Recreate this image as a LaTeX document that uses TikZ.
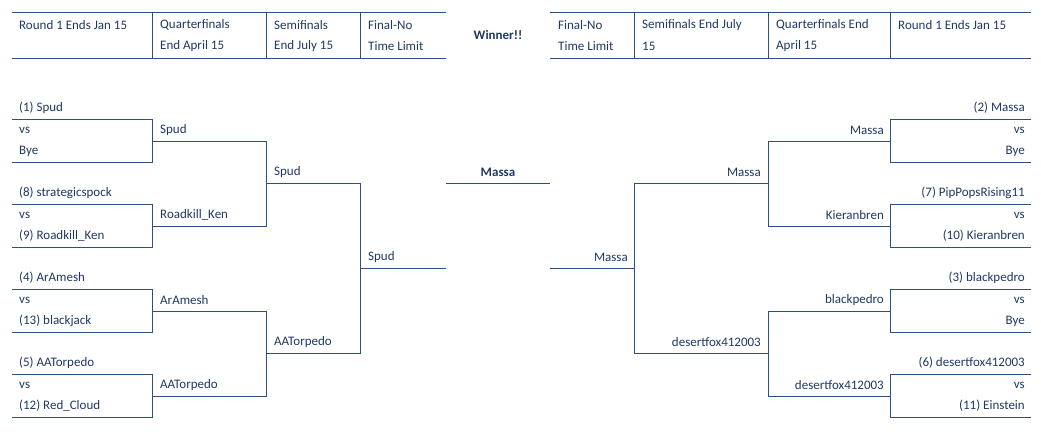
\documentclass[tikz,border=0pt]{standalone}
\usepackage{fontspec}
\setmainfont{Carlito}
\definecolor{ink}{HTML}{1F3864}
\definecolor{ln}{HTML}{2F4F7F}
\begin{document}
\begin{tikzpicture}[x=1pt,y=-1pt,
  ln/.style={draw=ln,line width=1pt},
  tl/.style={anchor=west,text=ink,font=\fontsize{13}{15}\selectfont,inner sep=0pt},
  tr/.style={anchor=east,text=ink,font=\fontsize{13}{15}\selectfont,inner sep=0pt},
  tc/.style={anchor=center,text=ink,font=\bfseries\fontsize{13}{15}\selectfont,inner sep=0pt}]
\useasboundingbox (0,0) rectangle (1041,431);
% header left
\draw[ln] (12,12) -- (446,12) (12,58) -- (446,58);
\foreach \x in {152,266,360} \draw[ln] (\x,12) -- (\x,58);
\node[tl] (h1) at (19,25) {Round 1 Ends Jan 15};
\node[tl] (h2) at (160,25) {Quarterfinals};
\node[tl] (h2b) at (160,46) {End April 15};
\node[tl] (h3) at (274,25) {Semifinals};
\node[tl] (h3b) at (274,46) {End July 15};
\node[tl] (h4) at (368,25) {Final-No};
\node[tl] (h4b) at (368,46) {Time Limit};
\node[tc] (win) at (498,35) {Winner!!};
% header right
\draw[ln] (550,12) -- (1031,12) (550,58) -- (1031,58);
\foreach \x in {634,768,890} \draw[ln] (\x,12) -- (\x,58);
\node[tl] (r4) at (558,25) {Final-No};
\node[tl] (r4b) at (558,46) {Time Limit};
\node[tl] (r3) at (642,25) {Semifinals End July};
\node[tl] (r3b) at (642,46) {15};
\node[tl] (r2) at (776,25) {Quarterfinals End};
\node[tl] (r2b) at (776,46) {April 15};
\node[tl] (r1) at (898,25) {Round 1 Ends Jan 15};
% left bracket lines
\draw[ln] (12,119) -- (152,119) -- (152,162) -- (12,162);
\draw[ln] (12,204) -- (152,204) -- (152,247) -- (12,247);
\draw[ln] (12,289) -- (152,289) -- (152,332) -- (12,332);
\draw[ln] (12,374) -- (152,374) -- (152,417) -- (12,417);
\draw[ln] (152,141) -- (266,141) -- (266,226) -- (152,226);
\draw[ln] (152,311) -- (266,311) -- (266,396) -- (152,396);
\draw[ln] (266,183) -- (360,183) -- (360,353) -- (266,353);
\draw[ln] (360,268) -- (446,268);
\draw[ln] (446,183) -- (550,183);
% right bracket lines
\draw[ln] (1031,119) -- (890,119) -- (890,162) -- (1031,162);
\draw[ln] (1031,204) -- (890,204) -- (890,247) -- (1031,247);
\draw[ln] (1031,289) -- (890,289) -- (890,332) -- (1031,332);
\draw[ln] (1031,374) -- (890,374) -- (890,417) -- (1031,417);
\draw[ln] (890,141) -- (768,141) -- (768,226) -- (890,226);
\draw[ln] (890,311) -- (768,311) -- (768,396) -- (890,396);
\draw[ln] (768,183) -- (634,183) -- (634,353) -- (768,353);
\draw[ln] (634,268) -- (550,268);
% left texts
\node[tl] (a1) at (19,108) {(1) Spud};
\node[tl] (a2) at (19,130) {vs};
\node[tl] (a3) at (19,151) {Bye};
\node[tl] (a4) at (19,193) {(8) strategicspock};
\node[tl] (a5) at (19,215) {vs};
\node[tl] (a6) at (19,236) {(9) Roadkill\_Ken};
\node[tl] (a7) at (19,278) {(4) ArAmesh};
\node[tl] (a8) at (19,300) {vs};
\node[tl] (a9) at (19,321) {(13) blackjack};
\node[tl] (a10) at (19,363) {(5) AATorpedo};
\node[tl] (a11) at (19,385) {vs};
\node[tl] (a12) at (19,406) {(12) Red\_Cloud};
\node[tl] (q1) at (160,130) {Spud};
\node[tl] (q2) at (160,215) {Roadkill\_Ken};
\node[tl] (q3) at (160,300) {ArAmesh};
\node[tl] (q4) at (160,385) {AATorpedo};
\node[tl] (s1) at (274,172) {Spud};
\node[tl] (s2) at (274,342) {AATorpedo};
\node[tl] (f1) at (368,257) {Spud};
\node[tc] (w) at (498,172) {Massa};
% right texts
\node[tr] (b1) at (1025,108) {(2) Massa};
\node[tr] (b2) at (1025,130) {vs};
\node[tr] (b3) at (1025,151) {Bye};
\node[tr] (b4) at (1025,193) {(7) PipPopsRising11};
\node[tr] (b5) at (1025,215) {vs};
\node[tr] (b6) at (1025,236) {(10) Kieranbren};
\node[tr] (b7) at (1025,278) {(3) blackpedro};
\node[tr] (b8) at (1025,300) {vs};
\node[tr] (b9) at (1025,321) {Bye};
\node[tr] (b10) at (1025,363) {(6) desertfox412003};
\node[tr] (b11) at (1025,385) {vs};
\node[tr] (b12) at (1025,406) {(11) Einstein};
\node[tr] (p1) at (884,130) {Massa};
\node[tr] (p2) at (884,215) {Kieranbren};
\node[tr] (p3) at (884,300) {blackpedro};
\node[tr] (p4) at (884,385) {desertfox412003};
\node[tr] (t1) at (761,172) {Massa};
\node[tr] (t2) at (761,342) {desertfox412003};
\node[tr] (g1) at (628,257) {Massa};
\end{tikzpicture}
\end{document}
